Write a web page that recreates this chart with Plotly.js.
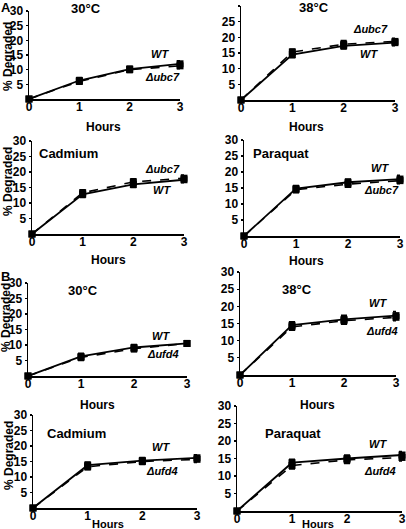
<!DOCTYPE html>
<html>
<head>
<meta charset="utf-8">
<script src="https://cdn.plot.ly/plotly-3.0.1.min.js"></script>
<style>html,body{margin:0;padding:0;background:#fff;}#chart{width:406px;height:529px;}</style>
</head>
<body>
<div id="chart"></div>
<script>
// ---- data ----
const hours = [0, 1, 2, 3];
const xTicks = [0, 1, 2, 3];
const yTicks = [5, 10, 15, 20, 25, 30];

const panelTitles = ["30°C", "38°C", "Cadmium", "Paraquat", "30°C", "38°C", "Cadmium", "Paraquat"];
const mutantNames = ["Δubc7", "Δubc7", "Δubc7", "Δubc7", "Δufd4", "Δufd4", "Δufd4", "Δufd4"];

const a30_wt = [0, 6.3, 10.2, 12.0];   const a30_wt_err = [0, 1.0, 1.0, 1.0];
const a30_mut = [0, 6.0, 10.0, 11.3];  const a30_mut_err = [0, 1.0, 1.0, 1.0];
const a38_wt = [0, 14.5, 17.3, 18.3];  const a38_wt_err = [0, 1.0, 1.0, 1.0];
const a38_mut = [0, 15.3, 17.8, 18.7]; const a38_mut_err = [0, 1.0, 1.2, 1.0];
const aCd_wt = [0, 12.8, 16.0, 17.5];  const aCd_wt_err = [0, 1.0, 1.0, 1.0];
const aCd_mut = [0, 13.3, 16.8, 18.0]; const aCd_mut_err = [0, 1.0, 1.0, 1.0];
const aPq_wt = [0, 14.8, 16.8, 17.8];  const aPq_wt_err = [0, 1.0, 1.0, 1.2];
const aPq_mut = [0, 14.5, 16.2, 17.3]; const aPq_mut_err = [0, 1.0, 1.0, 1.0];
const b30_wt = [0, 6.3, 9.2, 10.5];    const b30_wt_err = [0, 1.0, 1.0, 0.8];
const b30_mut = [0, 6.0, 8.8, 10.5];   const b30_mut_err = [0, 1.0, 1.0, 0.8];
const b38_wt = [0, 14.5, 16.2, 17.3];  const b38_wt_err = [0, 1.0, 1.2, 1.2];
const b38_mut = [0, 14.0, 15.8, 16.8]; const b38_mut_err = [0, 1.0, 1.0, 1.0];
const bCd_wt = [0, 13.8, 15.3, 16.2];  const bCd_wt_err = [0, 1.0, 1.0, 1.0];
const bCd_mut = [0, 13.3, 15.0, 15.7]; const bCd_mut_err = [0, 1.0, 1.0, 1.0];
const bPq_wt = [0, 13.8, 15.0, 16.0];  const bPq_wt_err = [0, 1.0, 1.0, 1.0];
const bPq_mut = [0, 13.0, 14.6, 15.3]; const bPq_mut_err = [0, 1.0, 1.0, 1.0];

const wtSeries = [a30_wt, a38_wt, aCd_wt, aPq_wt, b30_wt, b38_wt, bCd_wt, bPq_wt];
const wtErr = [a30_wt_err, a38_wt_err, aCd_wt_err, aPq_wt_err, b30_wt_err, b38_wt_err, bCd_wt_err, bPq_wt_err];
const mutSeries = [a30_mut, a38_mut, aCd_mut, aPq_mut, b30_mut, b38_mut, bCd_mut, bPq_mut];
const mutErr = [a30_mut_err, a38_mut_err, aCd_mut_err, aPq_mut_err, b30_mut_err, b38_mut_err, bCd_mut_err, bPq_mut_err];

// ---- layout geometry (pixels) ----
const W = 406, H = 529;
const boxes = [
  {x0: 29, x1: 180, yt: 11, yb: 99},
  {x0: 241, x1: 395, yt: 6, yb: 100},
  {x0: 32, x1: 184, yt: 141, yb: 234},
  {x0: 244, x1: 400, yt: 140, yb: 236},
  {x0: 28, x1: 187, yt: 283, yb: 376},
  {x0: 240, x1: 396, yt: 272, yb: 375},
  {x0: 33, x1: 197, yt: 415, yb: 508},
  {x0: 237, x1: 402, yt: 406, yb: 511}
];
const titlePos = [[86, 8], [314, 7], [68, 153], [281, 153], [83, 290], [297, 289], [76, 433], [293, 433]];
const wtPos = [[160, 54], [369, 54], [162, 190], [380, 168], [161, 336], [378, 303], [161, 447], [378, 444]];
const mutPos = [[162, 77], [370, 29], [162, 169], [381, 190], [163, 354], [382, 331], [162, 471], [380, 471]];
const hoursPos = [[103, 127], [306, 127], [108, 260], [306, 261], [97, 405], [317, 405], [108, 524], [318, 524]];
const degPos = [[8, 57], [8, 182], [6, 318], [9, 456]];

const FONT = "Liberation Sans, Arial, sans-serif";
const traces = [];
const layout = {
  width: W, height: H,
  margin: {l: 0, r: 0, t: 0, b: 0},
  paper_bgcolor: "#fff", plot_bgcolor: "#fff",
  showlegend: false,
  font: {family: FONT, size: 11, color: "#000", weight: "bold"},
  annotations: []
};

function px(x) { return x / W; }
function py(y) { return 1 - y / H; }
function ann(text, x, y, opts) {
  layout.annotations.push(Object.assign({
    text: text, x: px(x), y: py(y), xref: "paper", yref: "paper",
    showarrow: false, xanchor: "center", yanchor: "middle",
    font: {family: FONT, size: 12, color: "#000", weight: "bold"}
  }, opts || {}));
}

boxes.forEach((b, i) => {
  const n = i + 1;
  const xa = "x" + (n === 1 ? "" : n), ya = "y" + (n === 1 ? "" : n);
  const xk = "xaxis" + (n === 1 ? "" : n), yk = "yaxis" + (n === 1 ? "" : n);
  layout[xk] = {
    domain: [px(b.x0), px(b.x1)], anchor: ya, range: [0, 3],
    tickvals: xTicks, ticks: "", ticklen: 0, ticklabelstandoff: -4,
    showline: true, linecolor: "#000", linewidth: 1.5, showgrid: false, zeroline: false,
    tickfont: {family: FONT, size: 12, color: "#000", weight: "bold"}, fixedrange: true
  };
  layout[yk] = {
    domain: [py(b.yb), py(b.yt)], anchor: xa, range: [0, 30],
    tickvals: yTicks, ticks: "outside", ticklen: 2, tickwidth: 1.2, tickcolor: "#000",
    showline: true, linecolor: "#000", linewidth: 1.5, showgrid: false, zeroline: false,
    tickfont: {family: FONT, size: 12, color: "#000", weight: "bold"}, fixedrange: true
  };
  traces.push({
    x: hours, y: mutSeries[i], xaxis: xa, yaxis: ya, type: "scatter", mode: "lines+markers",
    line: {color: "#000", width: 1.6, dash: "dash"},
    marker: {symbol: "square", size: 7, color: "#000"},
    error_y: {type: "data", array: mutErr[i], visible: true, color: "#000", thickness: 1.5, width: 3},
    cliponaxis: false
  });
  traces.push({
    x: hours, y: wtSeries[i], xaxis: xa, yaxis: ya, type: "scatter", mode: "lines+markers",
    line: {color: "#000", width: 1.8},
    marker: {symbol: "square", size: 7, color: "#000"},
    error_y: {type: "data", array: wtErr[i], visible: true, color: "#000", thickness: 1.5, width: 3},
    cliponaxis: false
  });
  ann(panelTitles[i], titlePos[i][0], titlePos[i][1], {font: {family: FONT, size: 13, color: "#000", weight: "bold"}});
  ann("<i>WT</i>", wtPos[i][0], wtPos[i][1], {font: {family: FONT, size: 11, color: "#000", weight: "bold"}});
  ann("<i>" + mutantNames[i] + "</i>", mutPos[i][0], mutPos[i][1], {font: {family: FONT, size: 11, color: "#000", weight: "bold"}});
  const hs = (i >= 6) ? 11 : 12;
  ann("Hours", hoursPos[i][0], hoursPos[i][1], {font: {family: FONT, size: hs, color: "#000", weight: "bold"}});
});
degPos.forEach(p => ann("% Degraded", p[0], p[1], {textangle: -90, font: {family: FONT, size: 12, color: "#000", weight: "bold"}}));
ann("A", 6, 7, {font: {family: FONT, size: 13, color: "#000", weight: "bold"}});
ann("B", 5, 276, {font: {family: FONT, size: 13, color: "#000", weight: "bold"}});

Plotly.newPlot("chart", traces, layout, {displayModeBar: false, staticPlot: true});
</script>
</body>
</html>
